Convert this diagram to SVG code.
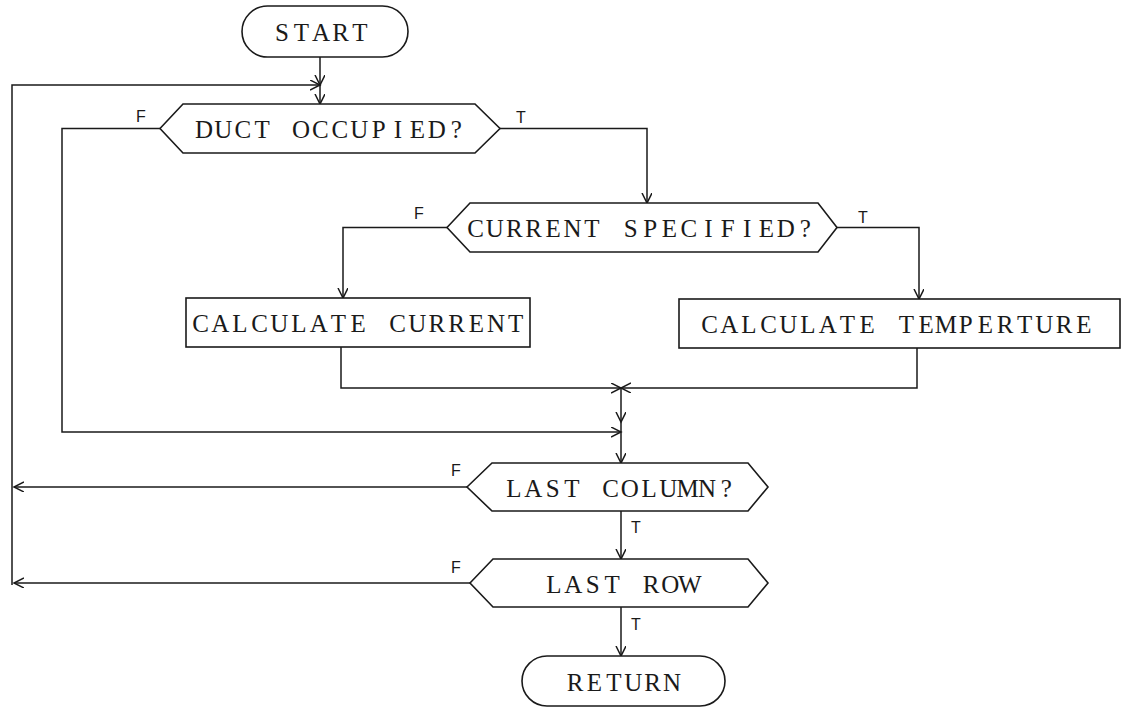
<svg xmlns="http://www.w3.org/2000/svg" width="1126" height="709" viewBox="0 0 1126 709">
<style>
.shape{fill:#fff;stroke:#1a1a1a;stroke-width:1.6}
.line{fill:none;stroke:#1a1a1a;stroke-width:1.5}
.txt{font-family:"Liberation Serif","DejaVu Serif",serif;font-size:25px;fill:#1a1a1a;text-anchor:middle}
.lbl{font-family:"Liberation Sans","DejaVu Sans",sans-serif;font-size:16px;fill:#1a1a1a}
</style>
<defs>
<marker id="arr" markerUnits="userSpaceOnUse" markerWidth="12" markerHeight="12" refX="10" refY="5" orient="auto">
<path d="M0,0 L10,5 L0,10" fill="none" stroke="#1a1a1a" stroke-width="1.5"/>
</marker>
</defs>
<rect width="1126" height="709" fill="#fff"/>
<g id="connectors">
<line class="line" x1="320" y1="57" x2="320" y2="85" marker-end="url(#arr)"/>
<line class="line" x1="320" y1="85" x2="320" y2="104" marker-end="url(#arr)"/>
<path class="line" d="M12,585 L12,85 L320,85" marker-end="url(#arr)"/>
<path class="line" d="M160,128.5 L62,128.5 L62,432 L621,432" marker-end="url(#arr)"/>
<path class="line" d="M500,128.5 L647,128.5 L647,203" marker-end="url(#arr)"/>
<path class="line" d="M447,227.5 L343,227.5 L343,298" marker-end="url(#arr)"/>
<path class="line" d="M837,227.5 L919,227.5 L919,299" marker-end="url(#arr)"/>
<path class="line" d="M341,347 L341,388 L621,388" marker-end="url(#arr)"/>
<path class="line" d="M917,348 L917,388 L621,388" marker-end="url(#arr)"/>
<line class="line" x1="621" y1="388" x2="621" y2="422" marker-end="url(#arr)"/>
<line class="line" x1="621" y1="420" x2="621" y2="432"/>
<line class="line" x1="621" y1="432" x2="621" y2="463" marker-end="url(#arr)"/>
<line class="line" x1="621" y1="511" x2="621" y2="559" marker-end="url(#arr)"/>
<line class="line" x1="621" y1="607" x2="621" y2="656" marker-end="url(#arr)"/>
<line class="line" x1="467" y1="487" x2="14" y2="487" marker-end="url(#arr)"/>
<line class="line" x1="470" y1="583" x2="14" y2="583" marker-end="url(#arr)"/>
<text class="lbl" x="136" y="122">F</text>
<text class="lbl" x="516" y="123">T</text>
<text class="lbl" x="414" y="219">F</text>
<text class="lbl" x="858" y="223">T</text>
<text class="lbl" x="451" y="476">F</text>
<text class="lbl" x="631" y="533">T</text>
<text class="lbl" x="451" y="573">F</text>
<text class="lbl" x="631" y="630">T</text>
</g>
<g id="start">
<rect class="shape" x="242" y="6" width="166" height="51" rx="25.5"/>
<text class="txt" x="282 301.5 321 340.5 360" y="41">START</text>
</g>
<g id="duct">
<polygon class="shape" points="160,128.5 183,104 475,104 500,128.5 475,153 183,153"/>
<text class="txt" x="204 223.4 242.8 262.2 281.6 301 320.4 339.8 359.2 378.6 398 417.4 436.8 456.2" y="137.5">DUCT OCCUPIED?</text>
</g>
<g id="current_specified">
<polygon class="shape" points="447,227.5 470,203 818,203 837,227.5 818,252 470,252"/>
<text class="txt" x="475.5 494.9 514.3 533.7 553.1 572.5 591.9 611.3 630.7 650.1 669.5 688.9 708.3 727.7 747.1 766.5 785.9 805.3" y="236.5">CURRENT SPECIFIED?</text>
</g>
<g id="calc_current">
<rect class="shape" x="186" y="298" width="344" height="49"/>
<text class="txt" x="200.5 220.2 239.9 259.6 279.3 299 318.7 338.4 358.1 377.8 397.5 417.2 436.9 456.6 476.3 496 515.7" y="331.5">CALCULATE CURRENT</text>
</g>
<g id="calc_temp">
<rect class="shape" x="679" y="299" width="441" height="49"/>
<text class="txt" x="709.5 729.2 748.9 768.6 788.3 808 827.7 847.4 867.1 886.8 906.5 926.2 945.9 965.6 985.3 1005 1024.7 1044.4 1064.1 1083.8" y="332.5">CALCULATE TEMPERTURE</text>
</g>
<g id="last_column">
<polygon class="shape" points="467,487 492,463 748,463 768,487 748,511 492,511"/>
<text class="txt" x="514 533.3 552.6 571.9 591.2 610.5 629.8 649.1 668.4 687.7 707 726.3" y="496.5">LAST COLUMN?</text>
</g>
<g id="last_row">
<polygon class="shape" points="470,583 493,559 748,559 768,583 748,607 493,607"/>
<text class="txt" x="554 573.4 592.8 612.2 631.6 651 670.4 689.8" y="592.5">LAST ROW</text>
</g>
<g id="return">
<rect class="shape" x="522" y="656" width="203" height="50" rx="25"/>
<text class="txt" x="575 594.4 613.8 633.2 652.6 672" y="690.5">RETURN</text>
</g>
</svg>
